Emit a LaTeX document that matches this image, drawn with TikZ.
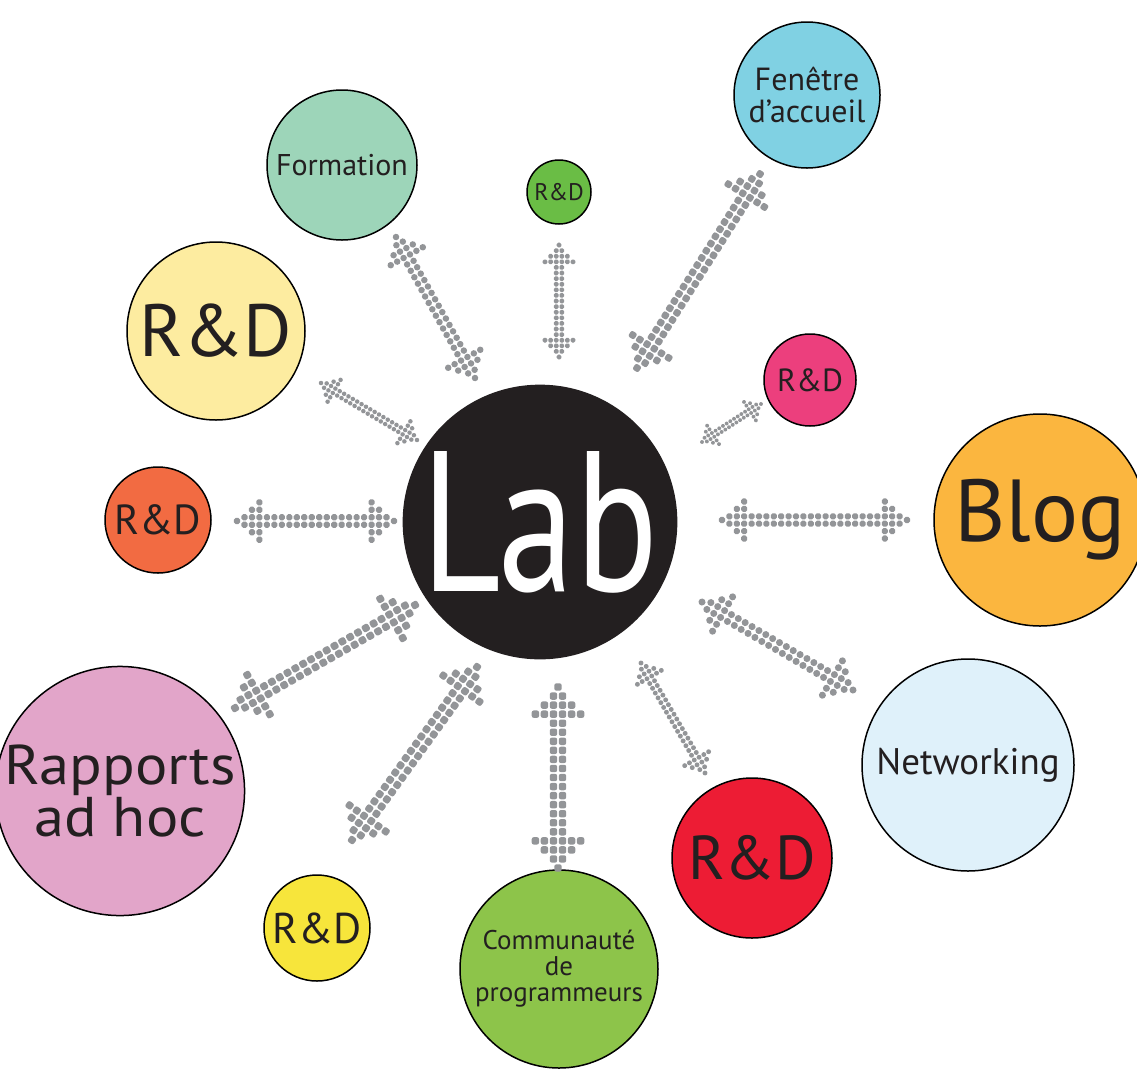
\documentclass[tikz,border=0pt]{standalone}
\usepackage{fontspec}
\setmainfont{PT Sans}
\usetikzlibrary{calc}

\definecolor{ink}{RGB}{35,31,32}
\definecolor{dotgray}{RGB}{147,149,152}
\definecolor{labblack}{RGB}{35,31,32}
\definecolor{cyanbub}{RGB}{128,209,227}
\definecolor{mintbub}{RGB}{157,213,185}
\definecolor{leafbub}{RGB}{106,189,69}
\definecolor{creambub}{RGB}{253,236,160}
\definecolor{rosebub}{RGB}{236,63,125}
\definecolor{coralbub}{RGB}{242,107,66}
\definecolor{amberbub}{RGB}{251,182,63}
\definecolor{skybub}{RGB}{223,241,250}
\definecolor{redbub}{RGB}{237,28,52}
\definecolor{limebub}{RGB}{141,196,74}
\definecolor{lemonbub}{RGB}{247,229,59}
\definecolor{orchidbub}{RGB}{226,165,201}

\tikzset{
  bubble/.style={circle, draw=black, line width=1.5pt, inner sep=0pt,
    align=center, text=ink},
  dotcell/.style={fill=dotgray}
}

% double arrow made of small square cells, from tip #1 to tip #2, cell pitch #3 (pt)
\newcommand{\dotarrow}[3]{%
  \path (#1); \pgfgetlastxy{\ax}{\ay}
  \path (#2); \pgfgetlastxy{\bx}{\by}
  \pgfmathsetmacro{\ang}{atan2(\by-\ay,\bx-\ax)}
  \pgfmathsetmacro{\len}{100*veclen((\bx-\ax)/100,(\by-\ay)/100)}
  \pgfmathtruncatemacro{\ncol}{round(\len/#3)}
  \pgfmathsetmacro{\pch}{\len/\ncol}
  \pgfmathsetmacro{\cell}{0.82*\pch}
  \pgfmathsetmacro{\rc}{0.24*\pch}
  \begin{scope}[shift={(#1)}, rotate=\ang]
    \foreach \col in {0,...,\ncol} {
      \pgfmathtruncatemacro{\dd}{min(\col,\ncol-\col)}
      \pgfmathtruncatemacro{\hh}{\dd==0 ? 0 : (\dd>3 ? 1 : \dd)}
      \ifnum\hh=0
        \fill[dotcell, rounded corners=\rc pt] (\col*\pch pt-0.5*\cell pt, -0.5*\cell pt) rectangle ++(\cell pt, \cell pt);
      \else
        \foreach \row in {1,...,\hh} {
          \foreach \sg in {-1,1} {
            \fill[dotcell, rounded corners=\rc pt]
              (\col*\pch pt-0.5*\cell pt, \sg*\row*\pch pt-\sg*0.5*\pch pt-0.5*\cell pt)
              rectangle ++(\cell pt, \cell pt);
          }
        }
      \fi
    }
  \end{scope}}

\begin{document}
\begin{tikzpicture}[x=1pt, y=-1pt]
  \useasboundingbox (0,0) rectangle (1137,1077);
  \clip (0,0) rectangle (1137,1077);
  \fill[white] (0,0) rectangle (1137,1077);

  % Hub
  \node[circle, fill=labblack, minimum size=266pt, inner sep=0pt, text=white,
    font=\fontsize{200}{200}\selectfont] (lab) at (540,522) {\scalebox{0.77}[1]{Lab}};

  % Satellites
  \node[bubble, fill=cyanbub, minimum size=146pt, font=\fontsize{32}{32}\selectfont]
    (fenetre) at (807,95) {Fenêtre\\d’accueil};
  \node[bubble, fill=mintbub, minimum size=150pt, font=\fontsize{30}{30}\selectfont]
    (formation) at (342,165) {Formation};
  \node[bubble, fill=leafbub, minimum size=64pt, font=\fontsize{24}{24}\selectfont]
    (rdtiny) at (559,192) {R\&D};
  \node[bubble, fill=creambub, minimum size=178pt, font=\fontsize{74}{74}\selectfont]
    (rdbig) at (216,331) {R\&D};
  \node[bubble, fill=rosebub, minimum size=92pt, font=\fontsize{32}{32}\selectfont]
    (rdrose) at (810,380) {R\&D};
  \node[bubble, fill=coralbub, minimum size=106pt, font=\fontsize{42}{42}\selectfont]
    (rdcoral) at (158,520) {R\&D};
  \node[bubble, fill=amberbub, minimum size=212pt, font=\fontsize{88}{88}\selectfont]
    (blog) at (1040,520) {Blog};
  \node[bubble, fill=skybub, minimum size=212pt, font=\fontsize{37}{37}\selectfont]
    (networking) at (968,765) {Networking};
  \node[bubble, fill=redbub, minimum size=160pt, font=\fontsize{62}{62}\selectfont]
    (rdred) at (752,858) {R\&D};
  \node[bubble, fill=limebub, minimum size=198pt, font=\fontsize{27}{26}\selectfont]
    (communaute) at (559,969) {Communauté\\de\\programmeurs};
  \node[bubble, fill=lemonbub, minimum size=106pt, font=\fontsize{43}{43}\selectfont]
    (rdlemon) at (317,928) {R\&D};
  \node[bubble, fill=orchidbub, minimum size=234pt, font=\fontsize{56}{50}\selectfont]
    (rapports) at (120,791) {\scalebox{1.08}[1]{Rapports}\\\scalebox{1.08}[1]{ad hoc}};

  % Arrow tips
  \coordinate (formation-a) at (396,237);  \coordinate (formation-b) at (475,378);
  \coordinate (rdtiny-a)    at (559,245);  \coordinate (rdtiny-b)    at (559,357);
  \coordinate (fenetre-a)   at (760,174);  \coordinate (fenetre-b)   at (637,368);
  \coordinate (rdrose-a)    at (761,404);  \coordinate (rdrose-b)    at (702,442);
  \coordinate (rdbig-a)     at (321,383);  \coordinate (rdbig-b)     at (417,440);
  \coordinate (rdcoral-a)   at (237,521);  \coordinate (rdcoral-b)   at (394,521);
  \coordinate (blog-a)      at (907,520);  \coordinate (blog-b)      at (722,520);
  \coordinate (network-a)   at (853,690);  \coordinate (network-b)   at (702,602);
  \coordinate (rdred-a)     at (705,773);  \coordinate (rdred-b)     at (641,663);
  \coordinate (commun-a)    at (558,868);  \coordinate (commun-b)    at (558,687);
  \coordinate (rdlemon-a)   at (352,840);  \coordinate (rdlemon-b)   at (477,667);
  \coordinate (rapports-a)  at (235,708);  \coordinate (rapports-b)  at (415,605);

  % Dotted double arrows
  \dotarrow{formation-a}{formation-b}{7.5}
  \dotarrow{rdtiny-a}{rdtiny-b}{5.5}
  \dotarrow{fenetre-a}{fenetre-b}{8.5}
  \dotarrow{rdrose-a}{rdrose-b}{4.5}
  \dotarrow{rdbig-a}{rdbig-b}{5}
  \dotarrow{rdcoral-a}{rdcoral-b}{7.5}
  \dotarrow{blog-a}{blog-b}{7.5}
  \dotarrow{network-a}{network-b}{8}
  \dotarrow{rdred-a}{rdred-b}{5.5}
  \dotarrow{commun-a}{commun-b}{9}
  \dotarrow{rdlemon-a}{rdlemon-b}{9}
  \dotarrow{rapports-a}{rapports-b}{9}
\end{tikzpicture}
\end{document}
